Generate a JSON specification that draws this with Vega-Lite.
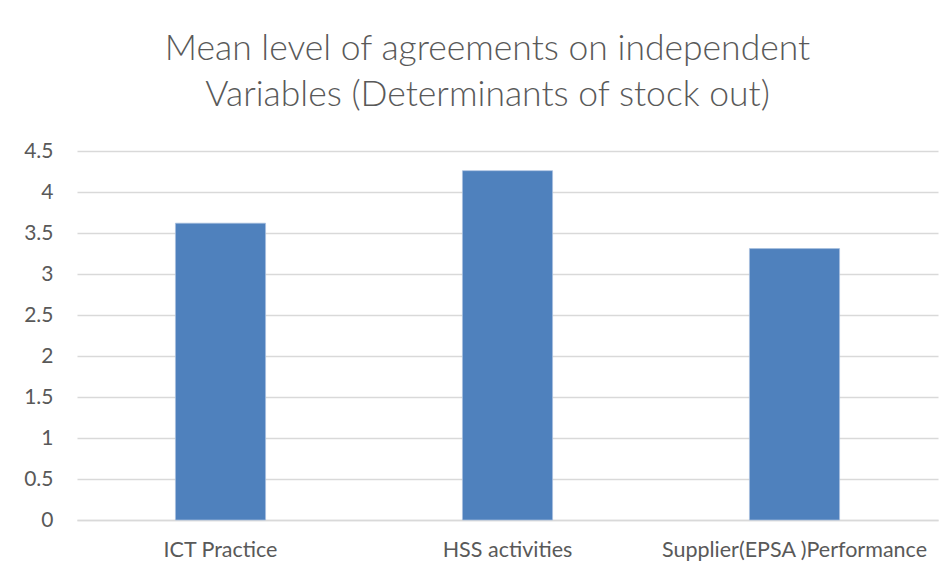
{
  "$schema": "https://vega.github.io/schema/vega-lite/v6.json",
  "autosize": "none",
  "width": 861,
  "height": 369,
  "padding": {"left": 77, "top": 151, "right": 14, "bottom": 57},
  "background": "white",
  "title": {
    "text": ["Mean level of agreements on independent", "Variables (Determinants of stock out)"],
    "font": "Lato",
    "fontSize": 35.5,
    "fontWeight": 300,
    "color": "#595959",
    "lineHeight": 46,
    "anchor": "middle",
    "dx": -20,
    "offset": 27
  },
  "data": {
    "values": [
      {"category": "ICT Practice", "mean": 3.62},
      {"category": "HSS activities", "mean": 4.26},
      {"category": "Supplier(EPSA )Performance", "mean": 3.31}
    ]
  },
  "mark": {"type": "bar", "color": "#4f81bd", "stroke": "#a9c0e0", "strokeWidth": 0.7},
  "encoding": {
    "x": {
      "field": "category",
      "type": "nominal",
      "sort": null,
      "scale": {"paddingInner": 0.686, "paddingOuter": 0.343},
      "axis": {
        "title": null,
        "labelAngle": 0,
        "labelFont": "Lato",
        "labelFontSize": 21.5,
        "labelColor": "#595959",
        "labelPadding": 19,
        "labelLimit": 500,
        "ticks": false,
        "domain": true,
        "domainColor": "#d9d9d9",
        "domainWidth": 1.5
      }
    },
    "y": {
      "field": "mean",
      "type": "quantitative",
      "scale": {"domain": [0, 4.5], "nice": false},
      "axis": {
        "title": null,
        "values": [0, 0.5, 1, 1.5, 2, 2.5, 3, 3.5, 4, 4.5],
        "labelExpr": "datum.value + ''",
        "labelFont": "Lato",
        "labelFontSize": 21,
        "labelColor": "#595959",
        "labelPadding": 24,
        "ticks": false,
        "domain": false,
        "grid": true,
        "gridColor": "#d9d9d9",
        "gridWidth": 1.5
      }
    }
  },
  "config": {"view": {"stroke": null}}
}
